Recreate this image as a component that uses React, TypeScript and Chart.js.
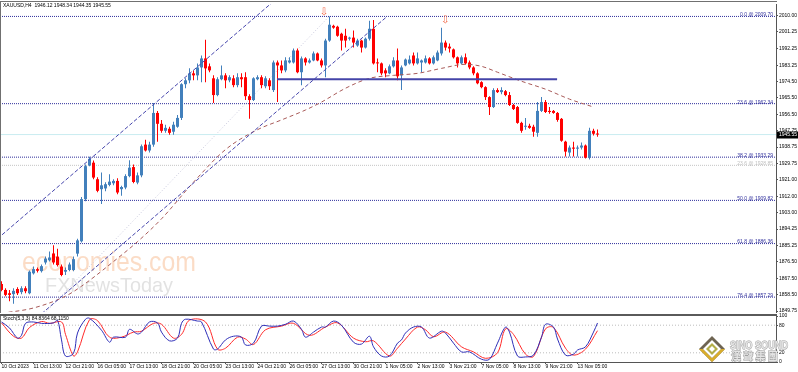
import React, { useEffect, useRef } from 'react';
import { Chart, registerables } from 'chart.js';

Chart.register(...registerables);

// ---------------- DATA ----------------
const symbolLabel = 'XAUUSD,H4';

const opens = [
  1864.4,1861.2,1859.4,1858.9,1861.7,1860.0,1862.1,1859.4,1870.2,1872.5,
  1871.4,1876.1,1877.3,1881.0,1879.3,1873.9,1871.1,1872.0,1872.0,1880.9,
  1887.6,1910.5,1928.8,1930.3,1921.3,1915.9,1916.3,1918.2,1919.1,1920.4,
  1915.9,1916.8,1923.0,1927.9,1919.5,1923.4,1940.1,1936.9,1940.1,1957.3,
  1951.4,1947.6,1948.7,1947.1,1949.8,1954.6,1972.9,1975.0,1978.8,1977.7,
  1982.0,1986.9,1982.6,1976.1,1967.0,1975.6,1977.7,1975.0,1976.1,1972.4,
  1976.7,1976.7,1966.4,1964.3,1975.6,1976.7,1971.8,1975.0,1969.7,1984.7,
  1983.1,1980.4,1984.7,1984.7,1991.2,1979.4,1986.9,1984.7,1985.8,1989.6,
  1985.8,1983.1,1996.6,2004.6,2004.1,2000.3,1999.2,1997.6,1998.2,1993.9,
  1996.6,1992.8,1997.6,2003.0,1984.7,1984.2,1980.4,1978.8,1982.6,1985.8,
  1977.7,1983.1,1984.2,1988.5,1984.2,1984.7,1984.7,1986.9,1984.2,1985.8,
  1989.6,1995.5,1993.3,1991.8,1987.5,1984.2,1987.5,1984.7,1982.0,1978.8,
  1974.0,1971.3,1965.9,1960.5,1969.7,1968.6,1969.1,1967.0,1961.6,1960.5,
  1951.9,1949.8,1950.3,1949.8,1946.5,1958.4,1963.2,1958.4,1958.4,1957.3,
  1954.1,1941.7,1935.8,1938.5,1937.9,1938.5,1939.6,1933.1,1947.6,1946.12,
];
const highs = [
  1865.9,1862.1,1861.2,1862.1,1862.7,1863.2,1863.2,1871.8,1873.9,1873.4,
  1875.0,1879.3,1882.0,1885.4,1883.6,1875.0,1873.4,1876.1,1879.3,1889.0,
  1911.6,1929.3,1933.5,1931.5,1922.4,1924.9,1919.7,1924.0,1921.3,1921.8,
  1917.7,1924.0,1931.6,1929.3,1925.0,1940.1,1942.8,1941.7,1962.7,1958.4,
  1953.5,1950.9,1949.8,1952.5,1956.2,1973.4,1976.1,1981.5,1980.4,1984.2,
  1988.5,1997.1,1984.2,1977.7,1976.7,1983.1,1978.8,1977.7,1977.7,1978.8,
  1978.8,1979.4,1967.5,1976.7,1977.7,1977.7,1977.2,1976.1,1985.8,1985.8,
  1985.8,1987.5,1987.5,1992.3,1992.3,1988.0,1987.5,1986.9,1990.6,1990.1,
  1986.9,1997.6,2009.7,2005.2,2004.6,2000.9,2003.0,1998.7,2002.0,1997.6,
  1997.1,1998.2,2007.3,2007.8,1986.9,1984.7,1981.5,1983.6,1987.5,1992.3,
  1983.1,1986.9,1988.5,1990.1,1990.1,1986.3,1988.5,1987.5,1988.5,1991.2,
  2003.6,1996.6,1995.0,1992.3,1988.0,1988.5,1989.6,1985.8,1982.6,1979.4,
  1974.5,1971.8,1966.4,1970.7,1970.7,1971.3,1969.7,1968.6,1962.1,1961.1,
  1952.5,1954.6,1951.4,1950.9,1963.2,1965.9,1964.3,1960.5,1958.9,1957.8,
  1954.6,1942.2,1939.6,1941.7,1939.6,1941.2,1940.1,1949.2,1948.7,1948.34,
];
const lows = [
  1860.5,1857.8,1855.1,1853.7,1858.4,1858.9,1859.4,1858.9,1869.6,1870.7,
  1870.7,1875.0,1876.6,1875.0,1873.9,1868.6,1869.3,1871.3,1871.3,1879.3,
  1886.9,1909.4,1928.3,1921.3,1914.3,1907.8,1914.8,1917.5,1918.0,1913.2,
  1912.3,1915.9,1922.4,1919.1,1918.6,1922.4,1936.3,1935.8,1939.0,1941.7,
  1946.5,1946.5,1945.5,1945.5,1949.2,1953.5,1970.7,1973.4,1975.0,1975.0,
  1974.0,1974.0,1979.4,1962.7,1966.4,1975.0,1970.7,1974.0,1971.3,1971.3,
  1971.3,1964.3,1954.1,1963.8,1975.0,1970.7,1970.7,1969.7,1968.6,1963.2,
  1978.8,1979.4,1984.2,1984.2,1978.8,1972.4,1983.1,1984.2,1985.3,1985.3,
  1982.0,1976.7,1996.0,2003.0,1998.7,1991.2,1992.8,1996.6,1992.8,1993.3,
  1990.1,1992.3,1996.6,1983.6,1979.4,1977.7,1976.7,1978.3,1982.0,1975.0,
  1969.7,1982.6,1983.6,1983.1,1983.6,1979.4,1984.2,1983.6,1983.6,1985.3,
  1988.5,1991.2,1990.1,1986.9,1982.0,1983.6,1983.6,1981.0,1977.7,1972.9,
  1970.7,1964.3,1956.2,1960.0,1968.1,1967.5,1966.4,1961.1,1958.9,1951.4,
  1946.5,1948.2,1948.7,1944.4,1944.4,1957.8,1957.3,1956.8,1956.8,1952.5,
  1941.7,1933.6,1933.6,1933.6,1933.6,1937.4,1932.6,1932.0,1945.0,1944.35,
];
const closes = [
  1861.2,1858.5,1858.5,1860.7,1859.4,1862.1,1860.5,1871.1,1872.5,1871.6,
  1874.1,1878.2,1878.8,1876.1,1874.7,1869.3,1872.0,1875.0,1877.9,1888.1,
  1910.5,1928.4,1932.4,1922.2,1915.0,1918.0,1918.6,1920.0,1920.4,1914.1,
  1917.1,1923.0,1927.6,1919.8,1923.4,1939.2,1936.9,1940.1,1957.3,1951.4,
  1947.6,1949.2,1946.5,1950.9,1954.6,1972.9,1975.0,1978.8,1977.7,1982.0,
  1986.9,1981.5,1980.4,1967.0,1975.6,1977.7,1975.0,1976.7,1972.4,1976.7,
  1975.6,1966.4,1964.3,1976.1,1976.7,1972.4,1976.1,1971.8,1984.7,1983.1,
  1980.4,1985.8,1985.8,1991.2,1979.4,1986.9,1984.7,1985.8,1989.6,1985.8,
  1983.1,1996.6,2005.2,2003.6,1999.2,1996.6,1996.6,1998.2,1995.5,1996.6,
  1992.8,1997.6,2003.0,1984.2,1984.2,1978.8,1978.8,1982.6,1985.8,1977.2,
  1982.0,1986.3,1986.3,1984.2,1986.9,1985.8,1986.9,1984.2,1987.5,1990.1,
  1995.5,1992.8,1992.3,1987.5,1984.2,1987.5,1984.2,1982.0,1978.8,1973.4,
  1971.3,1965.9,1960.5,1969.7,1968.6,1969.7,1967.0,1961.6,1959.4,1951.9,
  1947.6,1950.3,1949.2,1947.1,1958.4,1963.2,1957.8,1957.8,1957.3,1953.5,
  1942.2,1936.3,1938.5,1937.9,1938.5,1939.6,1933.1,1947.6,1946.0,1945.55,
];

const yTickValues = [2010.0, 2001.25, 1992.25, 1983.25, 1974.5, 1965.5, 1956.5, 1947.75, 1938.75, 1929.75, 1921.0, 1912.0, 1903.0, 1894.25, 1885.25, 1876.5, 1867.5, 1858.5, 1849.75];
const xTickLabels = ['10 Oct 2023', '11 Oct 13:00', '12 Oct 21:00', '16 Oct 05:00', '17 Oct 13:00', '18 Oct 21:00', '20 Oct 05:00', '23 Oct 13:00', '24 Oct 21:00', '26 Oct 05:00', '27 Oct 13:00', '30 Oct 21:00', '1 Nov 05:00', '2 Nov 13:00', '3 Nov 21:00', '7 Nov 05:00', '8 Nov 13:00', '9 Nov 21:00', '13 Nov 05:00'];
const xTickStep = 8;

const fibRatios = ['0.0', '23.6', '38.2', '50.0', '61.8', '76.4'];
const fibLevels = [2009.70, 1962.34, 1933.29, 1909.82, 1886.36, 1857.29];
const fib2Ratio = '23.6';
const fib2Level = 1928.85;

// moving average (candle index, price)
const maPoints: [number, number][] = [
  [0, 1848.5], [8, 1851.4], [16, 1857.8], [20, 1863.2], [28, 1876.6], [34, 1887.4], [40, 1899.8],
  [48, 1919.7], [56, 1937.4], [64, 1948.2], [70, 1953.5], [76, 1958.9], [80, 1963.2], [86, 1970.7],
  [92, 1976.1], [98, 1977.7], [104, 1978.8], [110, 1981.5], [116, 1983.7], [120, 1982.6], [124, 1979.4],
  [130, 1974.5], [136, 1970.2], [142, 1964.8], [148, 1960.5],
];
const channelUpper: [number, number][] = [[-1, 1889.0], [70, 2021.6]];
const channelLower: [number, number][] = [[10, 1848.2], [96.3, 2009.5]];
const fibBaseline: [number, number][] = [[11, 1849.0], [81.9, 2009.7]];
const supportLine: [number, number][] = [[68.9, 1975.6], [138.9, 1975.6]];
const fractalArrows: [number, number][] = [[80.6, 2011.8], [110.9, 2007.5]];

const stochK: [number, number][] = [
  [0,87],[2,74],[4,52],[5,58],[6,84],[8,87],[10,84],[13,85],[14,91],[15,48],[16,13],[18,19],[19,63],[21,93],[22,95],
  [25,69],[27,43],[28,54],[31,54],[32,71],[34,61],[35,65],[37,87],[39,85],[40,65],[42,46],[44,52],[45,84],[46,93],
  [49,89],[50,87],[53,28],[54,28],[56,48],[58,56],[60,54],[61,37],[63,41],[65,78],[67,78],[69,78],[71,82],[73,89],
  [75,71],[76,54],[78,65],[80,76],[81,76],[83,89],[85,80],[88,43],[90,39],[92,56],[93,33],[95,13],[97,13],[99,41],
  [100,48],[101,63],[103,76],[105,76],[107,52],[110,67],[111,63],[113,41],[115,22],[117,22],[120,6],[122,6],[124,41],
  [126,76],[127,65],[129,13],[131,11],[133,15],[135,54],[136,82],[138,76],[139,50],[141,15],[143,17],[144,26],[146,33],
  [148,65],[149,84.84],
];
const stochD: [number, number][] = [
  [0,85],[3,56],[5,52],[7,75],[10,88],[12,84],[15,87],[16,60],[18,13],[19,22],[22,92],[24,90],[27,54],[30,54],[33,65],
  [35,67],[38,84],[40,82],[43,52],[45,60],[47,91],[51,87],[54,28],[56,30],[59,54],[61,50],[63,38],[66,70],[70,78],
  [73,84],[77,58],[81,76],[84,85],[88,52],[91,44],[93,46],[97,13],[99,30],[101,50],[104,76],[106,70],[108,55],[111,65],
  [115,33],[118,22],[121,8],[124,20],[126,72],[128,60],[131,17],[133,12],[136,72],[138,75],[141,30],[143,15],[146,28],
  [149,68.12],
];
const stochLevels = [80, 20];
const stochTicks = [100, 80, 20, 0];
const stochLabel = 'Stoch(5,3,3) 84.8364 68.1150';

// ---------------- STYLE / LAYOUT ----------------
const X_MIN = -0.375;
const X_MAX = 193.625;
const BULL = '#4280bc';
const BEAR = '#ff0000';
const FIB = '#30309c';
const AXIS = '#555555';
const TINY = '5px "Liberation Sans", Arial, sans-serif';

const pts = (a: [number, number][]) => a.map(([x, y]) => ({ x, y }));
const hline = (v: number) => [{ x: X_MIN, y: v }, { x: X_MAX, y: v }];

function mainDecor() {
  return {
    id: 'mainDecor',
    beforeDatasetsDraw(chart: any) {
      const ctx = chart.ctx;
      ctx.save();
      ctx.textBaseline = 'alphabetic';
      ctx.textAlign = 'left';
      ctx.font = '27px "Liberation Sans", Arial, sans-serif';
      ctx.fillStyle = 'rgba(246, 178, 128, 0.45)';
      ctx.fillText('economies.com', 22, 271, 174);
      ctx.font = '21px "Liberation Sans", Arial, sans-serif';
      ctx.fillStyle = 'rgba(190, 190, 190, 0.45)';
      ctx.fillText('FXNewsToday', 45, 292, 128);
      ctx.restore();
    },
    afterDraw(chart: any) {
      const ctx = chart.ctx;
      const ys = chart.scales.y;
      const xs = chart.scales.x;
      const area = chart.chartArea;
      ctx.save();
      // fib labels
      ctx.font = TINY;
      ctx.textAlign = 'right';
      ctx.textBaseline = 'bottom';
      fibLevels.forEach((v, k) => {
        ctx.fillStyle = FIB;
        ctx.fillText(`${fibRatios[k]} @ ${v.toFixed(2)}`, area.right - 3, ys.getPixelForValue(v) + 1);
      });
      ctx.fillStyle = '#bdbdbd';
      ctx.fillText(`${fib2Ratio} @ ${fib2Level.toFixed(2)}`, area.right - 3, ys.getPixelForValue(fib2Level) + 1);
      // fractal arrows
      ctx.font = '10px "DejaVu Sans", sans-serif';
      ctx.textAlign = 'center';
      ctx.textBaseline = 'middle';
      ctx.fillStyle = '#f26a4a';
      fractalArrows.forEach(([i, v]) => ctx.fillText('⇩', xs.getPixelForValue(i), ys.getPixelForValue(v)));
      // header
      const n = closes.length - 1;
      ctx.font = TINY;
      ctx.textAlign = 'left';
      ctx.textBaseline = 'middle';
      ctx.fillStyle = '#000';
      ctx.fillText(`${symbolLabel}  ${opens[n].toFixed(2)} ${highs[n].toFixed(2)} ${lows[n].toFixed(2)} ${closes[n].toFixed(2)}`, 3, 6);
      // current price box
      const py = ys.getPixelForValue(closes[n]);
      ctx.fillStyle = '#000';
      ctx.fillRect(area.right + 1, Math.round(py) - 3.5, 21, 7);
      ctx.fillStyle = '#fff';
      ctx.fillText(closes[n].toFixed(2), area.right + 3, py);
      // frame
      ctx.fillStyle = '#707070';
      ctx.fillRect(0, 1, area.right + 1, 1);
      ctx.fillRect(0, 1, 1, area.bottom);
      ctx.restore();
    },
  };
}

function drawLogo(ctx: CanvasRenderingContext2D, cx: number, cy: number) {
  const diamond = (r: number, color: string) => {
    ctx.beginPath();
    ctx.moveTo(cx, cy - r);
    ctx.lineTo(cx + r, cy);
    ctx.lineTo(cx, cy + r);
    ctx.lineTo(cx - r, cy);
    ctx.closePath();
    ctx.fillStyle = color;
    ctx.fill();
  };
  diamond(13, '#6e6452');
  ctx.beginPath();
  ctx.moveTo(cx - 13, cy);
  ctx.lineTo(cx, cy + 13);
  ctx.lineTo(cx + 13, cy);
  ctx.lineTo(cx + 9, cy);
  ctx.lineTo(cx, cy + 9);
  ctx.lineTo(cx - 9, cy);
  ctx.closePath();
  ctx.fillStyle = '#d8ad2c';
  ctx.fill();
  diamond(9, '#ffffff');
  diamond(6, '#b3ad48');
  diamond(3, '#ffffff');
}

function stochDecor() {
  return {
    id: 'stochDecor',
    afterDraw(chart: any) {
      const ctx = chart.ctx;
      const area = chart.chartArea;
      ctx.save();
      ctx.fillStyle = '#5a5a5a';
      ctx.fillRect(0, area.top - 2, area.right + 1, 2);
      ctx.fillStyle = '#707070';
      ctx.fillRect(0, area.top, 1, area.bottom - area.top);
      ctx.font = TINY;
      ctx.textAlign = 'left';
      ctx.textBaseline = 'middle';
      ctx.fillStyle = '#000';
      ctx.fillText(stochLabel, 3, area.top + 3);
      // logo
      drawLogo(ctx, 712, 37);
      ctx.textBaseline = 'alphabetic';
      ctx.font = 'bold 11px "Liberation Sans", Arial, sans-serif';
      ctx.lineWidth = 1;
      ctx.strokeStyle = '#a0a0a0';
      ctx.fillStyle = '#e4e4e4';
      ctx.strokeText('SINO SOUND', 730, 37, 58);
      ctx.fillText('SINO SOUND', 730, 37, 58);
      ctx.font = 'bold 10px "Noto Sans CJK TC", sans-serif';
      ctx.strokeText('漢 聲 集 團', 731, 48, 57);
      ctx.fillText('漢 聲 集 團', 731, 48, 57);
      ctx.restore();
    },
  };
}

export default function App() {
  const mainRef = useRef<HTMLCanvasElement>(null);
  const stochRef = useRef<HTMLCanvasElement>(null);

  useEffect(() => {
    const candles = opens.map((o, i) => ({ i, o, h: highs[i], l: lows[i], c: closes[i] }));
    const bull = candles.filter((k) => k.c >= k.o);
    const bear = candles.filter((k) => k.c < k.o);
    const barBase = { type: 'bar', grouped: false, borderWidth: 0, inflateAmount: 0 } as any;
    const lineBase = { type: 'line', pointRadius: 0, fill: false, tension: 0 } as any;

    const main = new Chart(mainRef.current as HTMLCanvasElement, {
      type: 'bar',
      data: {
        datasets: [
          { ...lineBase, data: hline(closes[closes.length - 1]), borderColor: '#c9ecf1', borderWidth: 1, order: 30 },
          ...fibLevels.map((v) => ({ ...lineBase, data: hline(v), borderColor: FIB, borderWidth: 1, borderDash: [1, 1], order: 31 })),
          { ...lineBase, data: hline(fib2Level), borderColor: '#c4c4c4', borderWidth: 1, borderDash: [1, 1], order: 32 },
          { ...lineBase, data: pts(fibBaseline), borderColor: '#c8c8dc', borderWidth: 1, borderDash: [1, 2], order: 33 },
          { ...lineBase, data: pts(maPoints), borderColor: '#a85a58', borderWidth: 1, borderDash: [4, 3], cubicInterpolationMode: 'monotone', order: 3 },
          { ...lineBase, data: pts(channelUpper), borderColor: '#4646ac', borderWidth: 1, borderDash: [4, 2], order: 2 },
          { ...lineBase, data: pts(channelLower), borderColor: '#4646ac', borderWidth: 1, borderDash: [4, 2], order: 2 },
          { ...lineBase, data: pts(supportLine), borderColor: '#4444a8', borderWidth: 2, order: 1 },
          { ...barBase, data: bull.map((k) => ({ x: k.i, y: [k.l, k.h] })), backgroundColor: BULL, barThickness: 1, order: 11 },
          { ...barBase, data: bear.map((k) => ({ x: k.i, y: [k.l, k.h] })), backgroundColor: BEAR, barThickness: 1, order: 11 },
          { ...barBase, data: bull.map((k) => ({ x: k.i, y: [k.o, k.c] })), backgroundColor: BULL, barThickness: 3, minBarLength: 1, order: 10 },
          { ...barBase, data: bear.map((k) => ({ x: k.i, y: [k.c, k.o] })), backgroundColor: BEAR, barThickness: 3, minBarLength: 1, order: 10 },
        ],
      },
      options: {
        responsive: false,
        animation: false,
        devicePixelRatio: 1,
        events: [],
        layout: { padding: { top: 3, bottom: 2, left: 0, right: 0 }, autoPadding: false },
        plugins: { legend: { display: false }, tooltip: { enabled: false } },
        scales: {
          x: { type: 'linear', min: X_MIN, max: X_MAX, display: false, offset: false },
          y: {
            type: 'linear',
            position: 'right',
            min: 1849.21,
            max: 2016.45,
            afterBuildTicks: (s: any) => { s.ticks = yTickValues.map((v) => ({ value: v })); },
            afterFit: (s: any) => { s.width = 22; },
            ticks: { font: { size: 5, family: 'Liberation Sans' }, color: '#000', padding: 1, autoSkip: false, callback: (v: any) => Number(v).toFixed(2) },
            grid: { drawOnChartArea: false, tickLength: 2, color: AXIS },
            border: { display: true, color: AXIS, width: 1 },
          },
        },
      } as any,
      plugins: [mainDecor()],
    } as any);

    const stoch = new Chart(stochRef.current as HTMLCanvasElement, {
      type: 'line',
      data: {
        datasets: [
          ...stochLevels.map((v) => ({ ...lineBase, data: hline(v), borderColor: '#bdbdbd', borderWidth: 1, borderDash: [1, 2], order: 10 })),
          { ...lineBase, data: pts(stochD), borderColor: '#ff2a2a', borderWidth: 1, tension: 0.35, order: 2 },
          { ...lineBase, data: pts(stochK), borderColor: '#2e2eb8', borderWidth: 1, tension: 0.35, order: 1 },
        ],
      },
      options: {
        responsive: false,
        animation: false,
        devicePixelRatio: 1,
        events: [],
        layout: { padding: { top: 4, bottom: 0, left: 0, right: 0 }, autoPadding: false },
        plugins: { legend: { display: false }, tooltip: { enabled: false } },
        scales: {
          x: {
            type: 'linear',
            min: X_MIN,
            max: X_MAX,
            offset: false,
            afterBuildTicks: (s: any) => { s.ticks = xTickLabels.map((_, k) => ({ value: k * xTickStep })); },
            afterFit: (s: any) => { s.height = 10; },
            ticks: {
              font: { size: 5, family: 'Liberation Sans' }, color: '#000', padding: 0, align: 'start',
              maxRotation: 0, minRotation: 0, autoSkip: false,
              callback: (v: any) => xTickLabels[Math.round(Number(v) / xTickStep)] ?? '',
            },
            grid: { drawOnChartArea: false, tickLength: 2, color: AXIS },
            border: { display: true, color: AXIS, width: 1 },
          },
          y: {
            type: 'linear',
            position: 'right',
            min: 0,
            max: 100,
            afterBuildTicks: (s: any) => { s.ticks = stochTicks.map((v) => ({ value: v })); },
            afterFit: (s: any) => { s.width = 22; },
            ticks: { font: { size: 5, family: 'Liberation Sans' }, color: '#000', padding: 1, autoSkip: false, callback: (v: any) => String(v) },
            grid: { drawOnChartArea: false, tickLength: 2, color: AXIS },
            border: { display: true, color: AXIS, width: 1 },
          },
        },
      } as any,
      plugins: [stochDecor()],
    } as any);

    return () => {
      main.destroy();
      stoch.destroy();
    };
  }, []);

  return (
    <div style={{ position: 'fixed', left: 0, top: 0, width: 798, height: 372, background: '#ffffff', overflow: 'hidden' }}>
      <canvas ref={mainRef} width={798} height={316} style={{ position: 'absolute', left: 0, top: 0 }} />
      <canvas ref={stochRef} width={798} height={60} style={{ position: 'absolute', left: 0, top: 312 }} />
    </div>
  );
}
